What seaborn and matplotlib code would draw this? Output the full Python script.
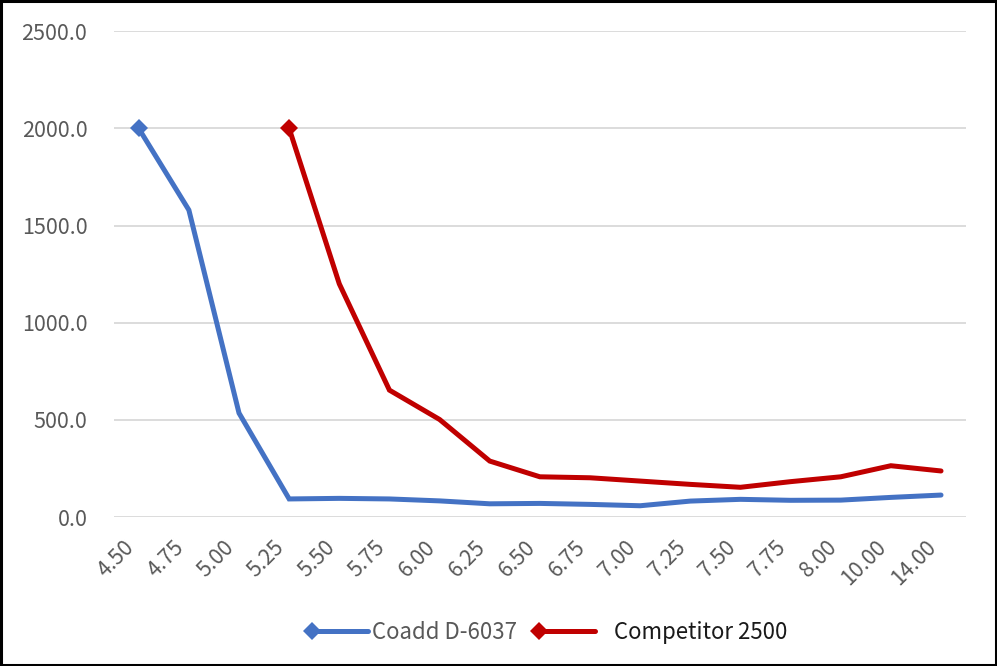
import numpy as np
import pandas as pd
import matplotlib
matplotlib.use("Agg")
import matplotlib.pyplot as plt
import seaborn as sns
from matplotlib.lines import Line2D
from matplotlib.legend_handler import HandlerBase
from matplotlib.patches import Rectangle
from matplotlib.ticker import FuncFormatter

# Concentration categories (x axis)
categories = ["4.50", "4.75", "5.00", "5.25", "5.50", "5.75", "6.00", "6.25",
              "6.50", "6.75", "7.00", "7.25", "7.50", "7.75", "8.00", "10.00", "14.00"]

coadd_values = [2000, 1580, 535, 93, 96, 93, 83, 68, 70, 65, 58, 82, 91, 86, 87, 101, 113]
competitor_values = [np.nan, np.nan, np.nan, 2000, 1200, 653, 502, 288, 207, 202,
                     185, 168, 153, 182, 207, 264, 237]

series_names = ["Coadd D-6037", "Competitor 2500"]
series_colors = ["#4472C4", "#C00000"]
y_ticks = [0, 500, 1000, 1500, 2000, 2500]

sns.set_theme(style="white")
plt.rcParams["font.family"] = ["Noto Sans CJK SC", "DejaVu Sans"]

positions = np.arange(len(categories))
df = pd.DataFrame({
    "pos": np.concatenate([positions, positions]),
    "value": coadd_values + competitor_values,
    "series": [series_names[0]] * len(categories) + [series_names[1]] * len(categories),
})

fig = plt.figure(figsize=(9.97, 6.66), dpi=100)
ax = fig.add_axes([0.114, 0.2237, 0.855, 0.7293])

for name, color in zip(series_names, series_colors):
    sub = df[df["series"] == name].dropna()
    sns.lineplot(data=sub, x="pos", y="value", ax=ax, color=color, linewidth=3.6,
                 marker="D", markersize=9.5, markevery=[0], markeredgewidth=0,
                 solid_joinstyle="miter", legend=False)

ax.set_xlim(-0.5, len(categories) - 0.5)
ax.set_ylim(0, 2500)
ax.set_yticks(y_ticks)
ax.yaxis.set_major_formatter(FuncFormatter(lambda v, p: f"{v:.1f}"))
ax.set_xticks(positions)
ax.set_xticklabels(categories, rotation=45, ha="right")
ax.set_xlabel("")
ax.set_ylabel("")
ax.grid(axis="y", color="#D9D9D9", linewidth=1.3)
ax.set_axisbelow(True)
for s in ax.spines.values():
    s.set_visible(False)
ax.tick_params(axis="y", length=0, pad=19, labelsize=15.5, labelcolor="#595959")
ax.tick_params(axis="x", length=0, pad=14, labelsize=15.5, labelcolor="#595959")


class LeftMarkerHandler(HandlerBase):
    def create_artists(self, legend, orig_handle, xdescent, ydescent,
                       width, height, fontsize, trans):
        y = height / 2 - ydescent
        line = Line2D([-xdescent, width - xdescent], [y, y],
                      color=orig_handle.get_color(), linewidth=3.6,
                      solid_capstyle="round")
        mk = Line2D([-xdescent], [y], marker="D", markersize=9.5,
                    markeredgewidth=0, color=orig_handle.get_color(), linestyle="none")
        line.set_transform(trans)
        mk.set_transform(trans)
        return [line, mk]


handles = [Line2D([], [], color=c) for c in series_colors]
legend_labels = [series_names[0], "   " + series_names[1]]
leg = fig.legend(handles, legend_labels, loc="center", bbox_to_anchor=(0.551, 0.051),
                 ncol=2, frameon=False, fontsize=16, handlelength=2.55,
                 handletextpad=0.15, columnspacing=1.0,
                 handler_map={Line2D: LeftMarkerHandler()})
leg.get_texts()[0].set_color("#595959")
leg.get_texts()[1].set_color("#1A1A1A")

# Outer border of the chart area
fig.patches.append(Rectangle((0.001, 0.0015), 0.998, 0.997, transform=fig.transFigure,
                             fill=False, edgecolor="black", linewidth=2.2))

fig.savefig("out.png", dpi=100)
